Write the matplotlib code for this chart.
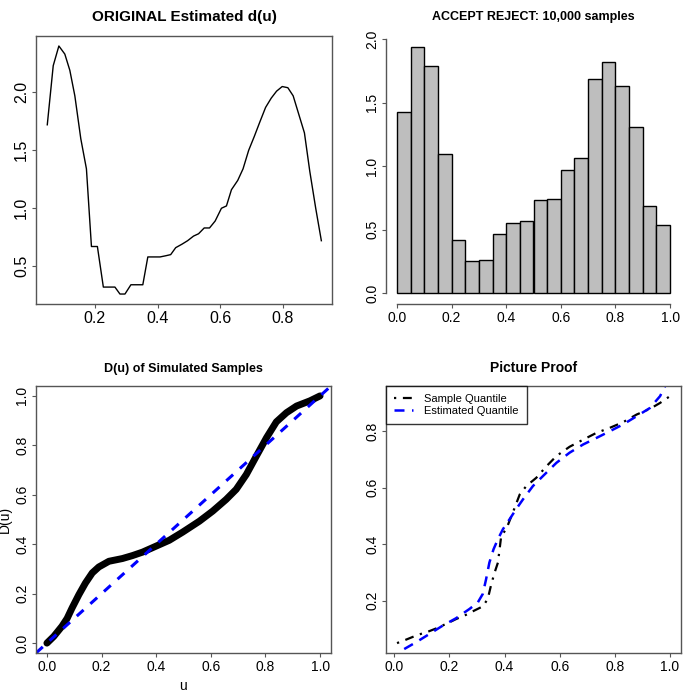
import matplotlib
matplotlib.use("Agg")
import matplotlib.pyplot as plt
import numpy as np

plt.rcParams['font.family'] = ['Liberation Sans', 'DejaVu Sans']

# ---- Panel 1: original estimated density d(u)
d_u = [0.048, 0.067, 0.085, 0.104, 0.12, 0.136, 0.155, 0.173, 0.189, 0.208,
       0.227, 0.264, 0.28, 0.296, 0.315, 0.353, 0.369, 0.408, 0.426, 0.442,
       0.458, 0.478, 0.496, 0.515, 0.531, 0.549, 0.566, 0.584, 0.604, 0.62,
       0.636, 0.656, 0.673, 0.691, 0.709, 0.726, 0.745, 0.763, 0.78, 0.798,
       0.816, 0.833, 0.851, 0.869, 0.886, 0.905, 0.923]
d_val = [1.72, 2.23, 2.40, 2.33, 2.19, 1.97, 1.60, 1.34, 0.67, 0.67,
         0.32, 0.32, 0.26, 0.26, 0.34, 0.34, 0.58, 0.58, 0.59, 0.60,
         0.66, 0.69, 0.72, 0.76, 0.78, 0.83, 0.83, 0.89, 1.00, 1.02,
         1.16, 1.24, 1.34, 1.50, 1.62, 1.74, 1.87, 1.95, 2.01, 2.05,
         2.04, 1.97, 1.81, 1.65, 1.32, 1.00, 0.72]

# ---- Panel 2: accept-reject histogram (density per bin)
bin_edges = [0.0, 0.05, 0.10, 0.15, 0.20, 0.25, 0.30, 0.35, 0.40, 0.45, 0.50,
             0.55, 0.60, 0.65, 0.70, 0.75, 0.80, 0.85, 0.90, 0.95, 1.0]
hist_density = [1.43, 1.94, 1.79, 1.095, 0.415, 0.25, 0.265, 0.467, 0.55, 0.57,
                0.73, 0.74, 0.97, 1.063, 1.685, 1.82, 1.63, 1.307, 0.69, 0.533]

# ---- Panel 3: D(u) of simulated samples
D_u = [0.0, 0.025, 0.055, 0.074, 0.092, 0.117, 0.141, 0.166, 0.19, 0.227,
       0.276, 0.313, 0.35, 0.399, 0.448, 0.497, 0.558, 0.607, 0.656, 0.693,
       0.73, 0.767, 0.804, 0.84, 0.877, 0.914, 0.963, 1.0]
D_val = [0.0, 0.027, 0.068, 0.10, 0.142, 0.196, 0.243, 0.284, 0.308, 0.331,
         0.342, 0.354, 0.368, 0.392, 0.416, 0.449, 0.493, 0.534, 0.581, 0.622,
         0.682, 0.757, 0.831, 0.895, 0.932, 0.959, 0.98, 1.0]

# ---- Panel 4: quantile comparison
sq_p = [0.01, 0.042, 0.085, 0.121, 0.152, 0.188, 0.224, 0.26, 0.29, 0.321,
        0.339, 0.352, 0.364, 0.376, 0.388, 0.406, 0.43, 0.455, 0.479, 0.515,
        0.552, 0.588, 0.636, 0.685, 0.733, 0.782, 0.83, 0.879, 0.927, 0.964, 1.0]
sq_val = [0.05, 0.062, 0.079, 0.09, 0.102, 0.118, 0.135, 0.15, 0.165, 0.18,
          0.206, 0.259, 0.30, 0.335, 0.43, 0.453, 0.512, 0.576, 0.606, 0.635,
          0.676, 0.712, 0.745, 0.77, 0.794, 0.812, 0.832, 0.859, 0.879, 0.90, 0.924]
eq_p = [0.036, 0.079, 0.127, 0.176, 0.224, 0.273, 0.303, 0.321, 0.333, 0.345,
        0.36, 0.376, 0.394, 0.418, 0.442, 0.467, 0.503, 0.539, 0.588, 0.636,
        0.685, 0.733, 0.782, 0.83, 0.879, 0.927, 0.964, 0.982]
eq_val = [0.029, 0.053, 0.082, 0.112, 0.138, 0.171, 0.194, 0.224, 0.276, 0.335,
          0.382, 0.418, 0.453, 0.488, 0.524, 0.559, 0.606, 0.641, 0.688, 0.724,
          0.753, 0.776, 0.80, 0.824, 0.853, 0.882, 0.924, 0.959]

BOX = '#555555'

fig = plt.figure(figsize=(7, 7), dpi=100)

def px_axes(x0, y0, x1, y1):
    return fig.add_axes([x0 / 700, (700 - y1) / 700, (x1 - x0) / 700, (y1 - y0) / 700])

def style(ax, size):
    for s in ax.spines.values():
        s.set_color(BOX)
        s.set_linewidth(1.0)
    ax.tick_params(direction='out', length=3, width=0.8, color=BOX,
                   labelsize=size, pad=2)
    for lab in ax.get_yticklabels():
        lab.set_rotation(90)
        lab.set_va('center')

# Panel 1
ax1 = px_axes(36, 36, 332, 304)
ax1.plot(d_u, d_val, color='black', lw=1.0)
ax1.set_xlim(0.012, 0.957)
ax1.set_ylim(0.174, 2.486)
ax1.set_xticks([0.2, 0.4, 0.6, 0.8])
ax1.set_yticks([0.5, 1.0, 1.5, 2.0])
ax1.set_xticklabels(['0.2', '0.4', '0.6', '0.8'])
ax1.set_yticklabels(['0.5', '1.0', '1.5', '2.0'])
style(ax1, 11.5)
ax1.set_title('ORIGINAL Estimated d(u)', fontsize=11, fontweight='bold', pad=11)

# Panel 2
ax2 = px_axes(386, 34, 681, 304)
widths = np.diff(bin_edges)
ax2.bar(bin_edges[:-1], hist_density, width=widths, align='edge',
        color='#bebebe', edgecolor='black', linewidth=1.0)
ax2.set_xlim(-0.04, 1.04)
ax2.set_ylim(-0.085, 2.04)
ax2.set_xticks([0.0, 0.2, 0.4, 0.6, 0.8, 1.0])
ax2.set_yticks([0.0, 0.5, 1.0, 1.5, 2.0])
ax2.set_xticklabels(['0.0', '0.2', '0.4', '0.6', '0.8', '1.0'])
ax2.set_yticklabels(['0.0', '0.5', '1.0', '1.5', '2.0'])
style(ax2, 10)
ax2.spines['top'].set_visible(False)
ax2.spines['right'].set_visible(False)
ax2.spines['left'].set_bounds(0, 2)
ax2.spines['bottom'].set_bounds(0, 1)
ax2.set_title('ACCEPT REJECT: 10,000 samples', fontsize=9, fontweight='bold', pad=10)

# Panel 3
ax3 = px_axes(36, 386, 331, 653)
ax3.plot(D_u, D_val, color='black', lw=5.0, solid_capstyle='round')
ax3.set_xlim(-0.04, 1.04)
ax3.set_ylim(-0.04, 1.04)
ax3.plot([-0.04, 1.04], [-0.04, 1.04], color='blue', lw=2.2, linestyle=(0, (3, 3)))
ax3.set_xticks([0.0, 0.2, 0.4, 0.6, 0.8, 1.0])
ax3.set_yticks([0.0, 0.2, 0.4, 0.6, 0.8, 1.0])
ax3.set_xticklabels(['0.0', '0.2', '0.4', '0.6', '0.8', '1.0'])
ax3.set_yticklabels(['0.0', '0.2', '0.4', '0.6', '0.8', '1.0'])
style(ax3, 10)
ax3.set_xlabel('u', fontsize=10, labelpad=4)
ax3.set_ylabel('D(u)', fontsize=10, labelpad=2)
ax3.set_title('D(u) of Simulated Samples', fontsize=9, fontweight='bold', pad=10)

# Panel 4
ax4 = px_axes(386, 386, 681, 653)
ax4.plot(sq_p, sq_val, color='black', lw=1.6, linestyle=(0, (1, 3, 4, 3)),
         label='Sample Quantile')
ax4.plot(eq_p, eq_val, color='blue', lw=1.8, linestyle=(0, (4, 3)),
         label='Estimated Quantile')
ax4.set_xlim(-0.03, 1.04)
ax4.set_ylim(0.015, 0.96)
ax4.set_xticks([0.0, 0.2, 0.4, 0.6, 0.8, 1.0])
ax4.set_yticks([0.2, 0.4, 0.6, 0.8])
ax4.set_xticklabels(['0.0', '0.2', '0.4', '0.6', '0.8', '1.0'])
ax4.set_yticklabels(['0.2', '0.4', '0.6', '0.8'])
style(ax4, 10)
leg = ax4.legend(loc='upper left', borderaxespad=0, fontsize=8, frameon=True,
                 fancybox=False, handlelength=1.7, handletextpad=1.0,
                 borderpad=0.75, labelspacing=0.15)
leg.get_frame().set_edgecolor('black')
leg.get_frame().set_linewidth(1.0)
ax4.set_title('Picture Proof', fontsize=10, fontweight='bold', pad=10)

fig.savefig('out.png', dpi=100)
